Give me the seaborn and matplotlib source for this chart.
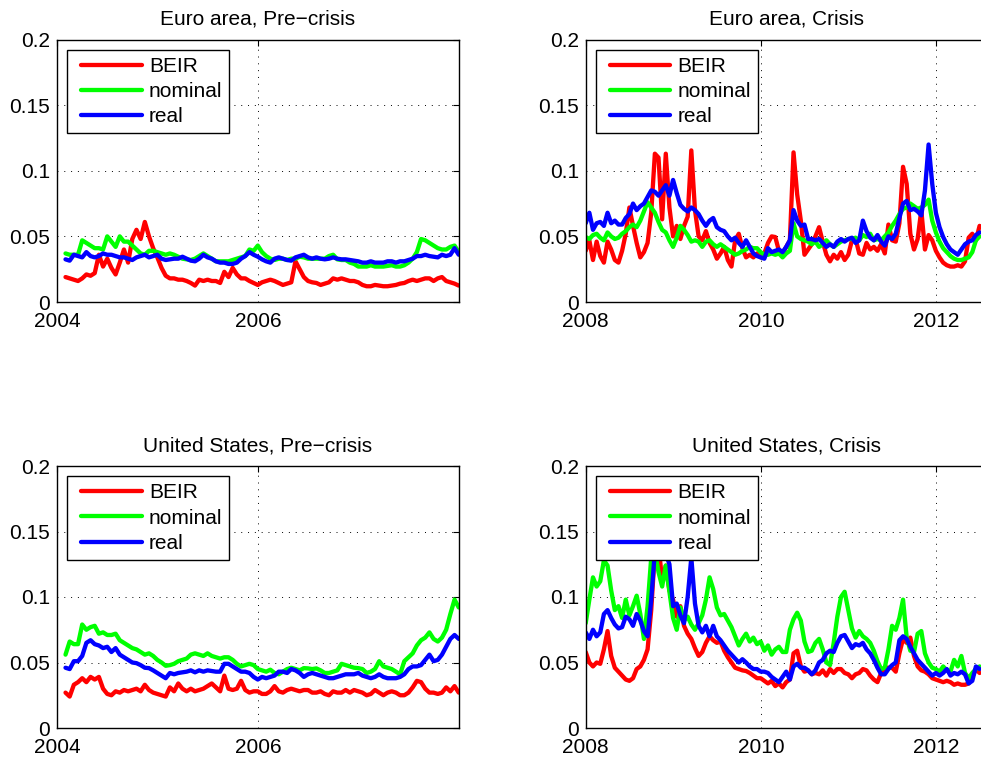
import numpy as np
import pandas as pd
import matplotlib
matplotlib.use("Agg")
import matplotlib.pyplot as plt
from matplotlib.lines import Line2D
from matplotlib.legend_handler import HandlerLine2D
import seaborn as sns

# ---------------------------------------------------------------------------
# Data: semi-monthly observations of inflation-risk measures
# ---------------------------------------------------------------------------
series_names = ["BEIR", "nominal", "real"]
series_colors = ["#ff0000", "#00ff00", "#0000ff"]

pre_start, pre_end, pre_n = "2004-02-01", "2007-12-31", 95
crisis_start, crisis_end, crisis_n = "2008-01-01", "2012-07-01", 109

euro_pre_beir = [
    0.019, 0.018, 0.017, 0.016, 0.018, 0.021, 0.020, 0.022, 0.036, 0.027,
    0.033, 0.026, 0.021, 0.030, 0.040, 0.030, 0.048, 0.055, 0.048, 0.061,
    0.050, 0.041, 0.034, 0.026, 0.020, 0.018, 0.018, 0.017, 0.017, 0.016,
    0.0145, 0.0125, 0.017, 0.016, 0.017, 0.016, 0.016, 0.0145, 0.023, 0.019,
    0.026, 0.021, 0.018, 0.018, 0.016, 0.0145, 0.013,
    0.015, 0.016, 0.017, 0.016, 0.0145, 0.013, 0.014, 0.015, 0.031, 0.025,
    0.019, 0.016, 0.015, 0.0145, 0.013, 0.014, 0.015, 0.018, 0.017, 0.018,
    0.017, 0.016, 0.016, 0.015, 0.013, 0.012, 0.012, 0.013, 0.0125, 0.012,
    0.012, 0.0125, 0.013, 0.014, 0.0145, 0.016, 0.017, 0.016, 0.017, 0.018,
    0.018, 0.016, 0.018, 0.019, 0.016, 0.015, 0.014, 0.0125,
]
euro_pre_nominal = [
    0.037, 0.036, 0.036, 0.036, 0.047, 0.045, 0.043, 0.041, 0.041, 0.040,
    0.050, 0.046, 0.042, 0.050, 0.046, 0.046, 0.043, 0.040, 0.037, 0.036,
    0.039, 0.039, 0.038, 0.037, 0.036, 0.037, 0.036, 0.0345, 0.033, 0.0325,
    0.032, 0.033, 0.035, 0.037, 0.035, 0.033, 0.031, 0.031, 0.031, 0.031,
    0.032, 0.033, 0.034, 0.035, 0.040, 0.039, 0.043,
    0.038, 0.035, 0.033, 0.032, 0.033, 0.033, 0.032, 0.033, 0.033, 0.0345,
    0.034, 0.033, 0.033, 0.033, 0.033, 0.033, 0.035, 0.036, 0.0325, 0.032,
    0.032, 0.030, 0.029, 0.027, 0.027, 0.027, 0.028, 0.027, 0.027, 0.027,
    0.0275, 0.028, 0.027, 0.027, 0.028, 0.030, 0.033, 0.038, 0.048, 0.047,
    0.045, 0.043, 0.041, 0.040, 0.040, 0.042, 0.043, 0.038,
]
euro_pre_real = [
    0.0325, 0.0315, 0.036, 0.035, 0.034, 0.038, 0.035, 0.034, 0.035, 0.037,
    0.036, 0.036, 0.035, 0.034, 0.034, 0.033, 0.032, 0.034, 0.035, 0.036,
    0.034, 0.035, 0.036, 0.033, 0.032, 0.0325, 0.033, 0.033, 0.0345, 0.033,
    0.0315, 0.031, 0.033, 0.036, 0.034, 0.033, 0.031, 0.030, 0.030, 0.029,
    0.029, 0.030, 0.033, 0.035, 0.038, 0.036, 0.0345,
    0.0325, 0.031, 0.030, 0.033, 0.034, 0.033, 0.032, 0.0315, 0.034, 0.035,
    0.036, 0.034, 0.033, 0.034, 0.033, 0.0325, 0.033, 0.034, 0.033, 0.0325,
    0.0325, 0.032, 0.0315, 0.031, 0.030, 0.030, 0.031, 0.030, 0.030, 0.030,
    0.031, 0.031, 0.030, 0.031, 0.031, 0.032, 0.033, 0.035, 0.035, 0.036,
    0.035, 0.0345, 0.034, 0.036, 0.035, 0.036, 0.041, 0.036,
]

us_pre_beir = [
    0.027, 0.024, 0.033, 0.035, 0.038, 0.035, 0.039, 0.037, 0.039, 0.030,
    0.026, 0.025, 0.028, 0.027, 0.029, 0.028, 0.029, 0.030, 0.028, 0.033,
    0.029, 0.027, 0.026, 0.025, 0.024, 0.031, 0.028, 0.034, 0.030, 0.028,
    0.030, 0.028, 0.029, 0.030, 0.032, 0.034, 0.031, 0.028, 0.040, 0.030,
    0.029, 0.030, 0.036, 0.029, 0.027, 0.028, 0.028,
    0.026, 0.026, 0.028, 0.032, 0.028, 0.027, 0.029, 0.030, 0.029, 0.028,
    0.029, 0.029, 0.027, 0.027, 0.028, 0.026, 0.025, 0.028, 0.027, 0.027,
    0.029, 0.027, 0.029, 0.028, 0.027, 0.025, 0.026, 0.029, 0.027, 0.025,
    0.027, 0.028, 0.027, 0.025, 0.025, 0.027, 0.031, 0.036, 0.035, 0.030,
    0.027, 0.027, 0.026, 0.027, 0.031, 0.028, 0.032, 0.027,
]
us_pre_nominal = [
    0.056, 0.066, 0.064, 0.064, 0.079, 0.075, 0.077, 0.078, 0.072, 0.073,
    0.071, 0.071, 0.072, 0.067, 0.065, 0.063, 0.061, 0.060, 0.058, 0.056,
    0.057, 0.055, 0.052, 0.050, 0.0475, 0.048, 0.049, 0.051, 0.052, 0.053,
    0.056, 0.057, 0.056, 0.055, 0.057, 0.055, 0.054, 0.053, 0.054, 0.054,
    0.052, 0.049, 0.047, 0.048, 0.049, 0.048, 0.045,
    0.044, 0.043, 0.0445, 0.042, 0.041, 0.043, 0.045, 0.046, 0.045, 0.044,
    0.0457, 0.0455, 0.045, 0.0455, 0.044, 0.042, 0.042, 0.043, 0.044, 0.049,
    0.048, 0.047, 0.046, 0.0457, 0.045, 0.042, 0.043, 0.045, 0.051, 0.047,
    0.046, 0.045, 0.043, 0.041, 0.051, 0.054, 0.057, 0.063, 0.067, 0.069,
    0.073, 0.068, 0.066, 0.069, 0.075, 0.087, 0.098, 0.092,
]
us_pre_real = [
    0.046, 0.045, 0.051, 0.051, 0.055, 0.065, 0.067, 0.064, 0.063, 0.061,
    0.062, 0.058, 0.061, 0.056, 0.054, 0.052, 0.050, 0.0495, 0.048, 0.046,
    0.0457, 0.044, 0.042, 0.040, 0.038, 0.042, 0.041, 0.042, 0.0425, 0.043,
    0.044, 0.0425, 0.044, 0.043, 0.044, 0.0435, 0.043, 0.043, 0.049, 0.049,
    0.047, 0.045, 0.043, 0.043, 0.042, 0.039, 0.037,
    0.039, 0.038, 0.039, 0.040, 0.043, 0.043, 0.042, 0.045, 0.044, 0.042,
    0.039, 0.041, 0.042, 0.041, 0.040, 0.039, 0.038, 0.038, 0.039, 0.040,
    0.041, 0.041, 0.041, 0.042, 0.040, 0.039, 0.038, 0.039, 0.041, 0.039,
    0.038, 0.038, 0.038, 0.039, 0.041, 0.045, 0.047, 0.047, 0.048, 0.052,
    0.056, 0.051, 0.052, 0.056, 0.062, 0.068, 0.071, 0.068,
]

euro_crisis_beir = [
    0.039, 0.047, 0.032, 0.046, 0.035, 0.030, 0.046, 0.040, 0.032, 0.030,
    0.039, 0.052, 0.072, 0.058, 0.045, 0.034, 0.038, 0.045, 0.068, 0.113,
    0.110, 0.063, 0.113, 0.072, 0.050, 0.058, 0.048, 0.058, 0.065, 0.1155,
    0.070, 0.050, 0.047, 0.054, 0.045, 0.040, 0.033, 0.037, 0.042, 0.032,
    0.027, 0.047, 0.052, 0.041, 0.034, 0.036, 0.034, 0.037, 0.034, 0.037,
    0.045, 0.050, 0.0495, 0.039, 0.037,
    0.042, 0.047, 0.114, 0.082, 0.062, 0.036, 0.040, 0.044, 0.050, 0.057,
    0.046, 0.036, 0.031, 0.036, 0.033, 0.038, 0.032, 0.036, 0.047, 0.048,
    0.037, 0.036, 0.045, 0.040, 0.042, 0.039, 0.044, 0.037, 0.059, 0.047,
    0.046, 0.060, 0.103, 0.090, 0.052, 0.040, 0.048, 0.070, 0.040, 0.051,
    0.047, 0.039, 0.034, 0.030, 0.028, 0.027, 0.027, 0.028, 0.027, 0.031,
    0.049, 0.052, 0.047, 0.058,
]
euro_crisis_nominal = [
    0.0495, 0.048, 0.051, 0.052, 0.049, 0.047, 0.053, 0.050, 0.048, 0.049,
    0.052, 0.054, 0.057, 0.059, 0.057, 0.062, 0.069, 0.076, 0.072, 0.068,
    0.061, 0.055, 0.053, 0.047, 0.042, 0.049, 0.058, 0.055, 0.051, 0.046,
    0.047, 0.046, 0.042, 0.046, 0.047, 0.044, 0.042, 0.044, 0.042, 0.040,
    0.038, 0.036, 0.037, 0.039, 0.040, 0.042, 0.041, 0.041, 0.038, 0.036,
    0.036, 0.037, 0.036, 0.037, 0.034,
    0.037, 0.039, 0.060, 0.050, 0.048, 0.047, 0.046, 0.044, 0.046, 0.042,
    0.044, 0.047, 0.044, 0.042, 0.044, 0.046, 0.047, 0.048, 0.048, 0.049,
    0.047, 0.051, 0.0495, 0.052, 0.047, 0.048, 0.047, 0.050, 0.053, 0.058,
    0.062, 0.067, 0.071, 0.072, 0.075, 0.073, 0.071, 0.072, 0.074, 0.078,
    0.062, 0.053, 0.046, 0.041, 0.038, 0.035, 0.033, 0.032, 0.032, 0.033,
    0.034, 0.038, 0.047, 0.050,
]
euro_crisis_real = [
    0.060, 0.068, 0.055, 0.060, 0.061, 0.058, 0.068, 0.060, 0.062, 0.059,
    0.059, 0.064, 0.067, 0.075, 0.070, 0.073, 0.075, 0.080, 0.085, 0.084,
    0.081, 0.085, 0.089, 0.081, 0.093, 0.083, 0.074, 0.071, 0.069, 0.072,
    0.070, 0.067, 0.062, 0.058, 0.062, 0.064, 0.057, 0.055, 0.054, 0.050,
    0.047, 0.049, 0.045, 0.042, 0.047, 0.042, 0.037, 0.035, 0.034, 0.033,
    0.041, 0.038, 0.039, 0.040, 0.038,
    0.042, 0.047, 0.070, 0.062, 0.058, 0.059, 0.048, 0.048, 0.047, 0.048,
    0.045, 0.042, 0.044, 0.042, 0.046, 0.048, 0.046, 0.048, 0.049, 0.045,
    0.047, 0.062, 0.054, 0.049, 0.047, 0.051, 0.046, 0.043, 0.050, 0.048,
    0.052, 0.064, 0.075, 0.077, 0.070, 0.071, 0.069, 0.066, 0.085, 0.120,
    0.090, 0.068, 0.057, 0.0495, 0.044, 0.040, 0.038, 0.036, 0.040, 0.044,
    0.046, 0.047, 0.051, 0.053,
]

us_crisis_beir = [
    0.058, 0.050, 0.047, 0.050, 0.049, 0.060, 0.074, 0.055, 0.046, 0.043,
    0.040, 0.037, 0.036, 0.038, 0.045, 0.047, 0.052, 0.060, 0.090, 0.135,
    0.140, 0.112, 0.124, 0.105, 0.098, 0.085, 0.093, 0.078, 0.072, 0.068,
    0.061, 0.055, 0.058, 0.065, 0.070, 0.067, 0.065, 0.066, 0.059, 0.054,
    0.050, 0.046, 0.045, 0.044, 0.0435, 0.042, 0.040, 0.038, 0.038, 0.036,
    0.034, 0.036, 0.032, 0.034, 0.031,
    0.035, 0.037, 0.057, 0.059, 0.047, 0.043, 0.044, 0.041, 0.042, 0.041,
    0.044, 0.040, 0.045, 0.042, 0.045, 0.045, 0.042, 0.041, 0.038, 0.041,
    0.042, 0.045, 0.044, 0.040, 0.037, 0.035, 0.042, 0.046, 0.046, 0.046,
    0.043, 0.057, 0.068, 0.065, 0.069, 0.055, 0.047, 0.044, 0.043, 0.041,
    0.038, 0.037, 0.036, 0.035, 0.036, 0.035, 0.033, 0.034, 0.033, 0.033,
    0.034, 0.039, 0.045, 0.042,
]
us_crisis_nominal = [
    0.080, 0.098, 0.115, 0.108, 0.112, 0.128, 0.124, 0.105, 0.090, 0.093,
    0.084, 0.098, 0.086, 0.093, 0.101, 0.087, 0.068, 0.093, 0.130, 0.135,
    0.119, 0.108, 0.124, 0.104, 0.084, 0.075, 0.092, 0.082, 0.085, 0.079,
    0.075, 0.080, 0.086, 0.098, 0.115, 0.106, 0.092, 0.086, 0.087, 0.082,
    0.077, 0.070, 0.063, 0.068, 0.072, 0.066, 0.069, 0.064, 0.066, 0.059,
    0.063, 0.056, 0.060, 0.062, 0.058,
    0.058, 0.075, 0.083, 0.088, 0.082, 0.066, 0.058, 0.059, 0.065, 0.068,
    0.060, 0.050, 0.048, 0.065, 0.085, 0.100, 0.104, 0.090, 0.076, 0.069,
    0.074, 0.070, 0.068, 0.065, 0.059, 0.051, 0.045, 0.046, 0.060, 0.078,
    0.075, 0.084, 0.098, 0.069, 0.059, 0.058, 0.072, 0.074, 0.057, 0.050,
    0.046, 0.045, 0.043, 0.047, 0.044, 0.043, 0.052, 0.047, 0.055, 0.042,
    0.038, 0.042, 0.045, 0.047,
]
us_crisis_real = [
    0.073, 0.068, 0.075, 0.070, 0.073, 0.087, 0.090, 0.084, 0.079, 0.076,
    0.077, 0.085, 0.083, 0.078, 0.087, 0.082, 0.074, 0.070, 0.098, 0.135,
    0.140, 0.138, 0.133, 0.125, 0.093, 0.095, 0.086, 0.080, 0.100, 0.130,
    0.095, 0.078, 0.073, 0.078, 0.070, 0.078, 0.070, 0.067, 0.063, 0.059,
    0.056, 0.053, 0.050, 0.0525, 0.050, 0.047, 0.045, 0.045, 0.043, 0.043,
    0.042, 0.039, 0.037, 0.035, 0.039,
    0.043, 0.037, 0.047, 0.049, 0.046, 0.046, 0.044, 0.041, 0.044, 0.050,
    0.052, 0.057, 0.059, 0.058, 0.065, 0.070, 0.071, 0.066, 0.061, 0.064,
    0.063, 0.065, 0.060, 0.057, 0.052, 0.046, 0.041, 0.041, 0.045, 0.048,
    0.050, 0.067, 0.070, 0.068, 0.062, 0.057, 0.052, 0.049, 0.046, 0.043,
    0.040, 0.042, 0.040, 0.042, 0.045, 0.040, 0.042, 0.041, 0.043, 0.041,
    0.034, 0.036, 0.047, 0.045,
]

panel_titles = [
    "Euro area, Pre\u2212crisis", "Euro area, Crisis",
    "United States, Pre\u2212crisis", "United States, Crisis",
]
pre_ticks = [2004, 2006]
crisis_ticks = [2008, 2010, 2012]
y_ticks = [0, 0.05, 0.1, 0.15, 0.2]
y_tick_labels = ["0", "0.05", "0.1", "0.15", "0.2"]


def decimal_years(start, end, n):
    d = pd.date_range(start, end, periods=n)
    days = np.where(d.is_leap_year, 366.0, 365.0)
    return np.asarray(d.year + (d.dayofyear - 1 + d.hour / 24.0) / days)


def long_frame(t, beir, nominal, real):
    parts = []
    for name, vals in zip(series_names, [beir, nominal, real]):
        parts.append(pd.DataFrame({"year": t, "value": vals, "series": name}))
    return pd.concat(parts, ignore_index=True)


t_pre = decimal_years(pre_start, pre_end, pre_n)
t_crisis = decimal_years(crisis_start, crisis_end, crisis_n)

panels = [
    (long_frame(t_pre, euro_pre_beir, euro_pre_nominal, euro_pre_real), (2004, 2008.0), pre_ticks),
    (long_frame(t_crisis, euro_crisis_beir, euro_crisis_nominal, euro_crisis_real), (2008, 2012.59), crisis_ticks),
    (long_frame(t_pre, us_pre_beir, us_pre_nominal, us_pre_real), (2004, 2008.0), pre_ticks),
    (long_frame(t_crisis, us_crisis_beir, us_crisis_nominal, us_crisis_real), (2008, 2012.59), crisis_ticks),
]

# ---------------------------------------------------------------------------
# Figure
# ---------------------------------------------------------------------------
sns.set_style("white")
plt.rcParams["font.family"] = ["Liberation Sans", "DejaVu Sans"]
plt.rcParams["axes.unicode_minus"] = True
plt.rcParams["text.color"] = "black"
plt.rcParams["axes.labelcolor"] = "black"
plt.rcParams["xtick.color"] = "black"
plt.rcParams["ytick.color"] = "black"

W, H = 981, 760
fig = plt.figure(figsize=(W / 100, H / 100), dpi=100)

ax_w = 402 / W
positions = [
    (57 / W, (H - 302) / H, ax_w, 262.5 / H),
    (585.7 / W, (H - 302) / H, ax_w, 262.5 / H),
    (57 / W, (H - 728) / H, ax_w, 262 / H),
    (585.7 / W, (H - 728) / H, ax_w, 262 / H),
]

FS = 15
palette = dict(zip(series_names, series_colors))

for (df, xlim, xticks), pos, title in zip(panels, positions, panel_titles):
    ax = fig.add_axes(pos)
    sns.lineplot(data=df, x="year", y="value", hue="series",
                 hue_order=series_names, palette=palette,
                 linewidth=3.1, legend=False, ax=ax)
    ax.set_xlim(*xlim)
    ax.set_ylim(0, 0.2)
    ax.set_xticks(xticks)
    ax.set_xticklabels([str(x) for x in xticks])
    ax.set_yticks(y_ticks)
    ax.set_yticklabels(y_tick_labels)
    ax.set_xlabel("")
    ax.set_ylabel("")
    ax.set_title(title, fontsize=FS, pad=10.5, color="black")

    ax.grid(True, color="black", linestyle=(0, (1, 6)), linewidth=0.7)
    ax.set_axisbelow(True)
    ax.tick_params(axis="both", direction="in", top=True, right=True,
                   length=4, width=0.8, colors="black", labelsize=FS)
    ax.tick_params(axis="y", pad=5)
    ax.tick_params(axis="x", pad=7)
    for sp in ax.spines.values():
        sp.set_visible(True)
        sp.set_color("black")
        sp.set_linewidth(1.0)

    leg = ax.legend(ax.get_lines()[:3], series_names, loc="upper left",
                    bbox_to_anchor=(0.025, 0.96), borderaxespad=0,
                    fontsize=FS, frameon=True, fancybox=False,
                    framealpha=1, edgecolor="black",
                    numpoints=2,
                    handler_map={Line2D: HandlerLine2D(marker_pad=0.33, numpoints=2)},
                    handlelength=3.58, handletextpad=0.02,
                    labelspacing=0.3, borderpad=0.33)
    leg.get_frame().set_linewidth(1.0)

fig.savefig("out.png", dpi=100)
